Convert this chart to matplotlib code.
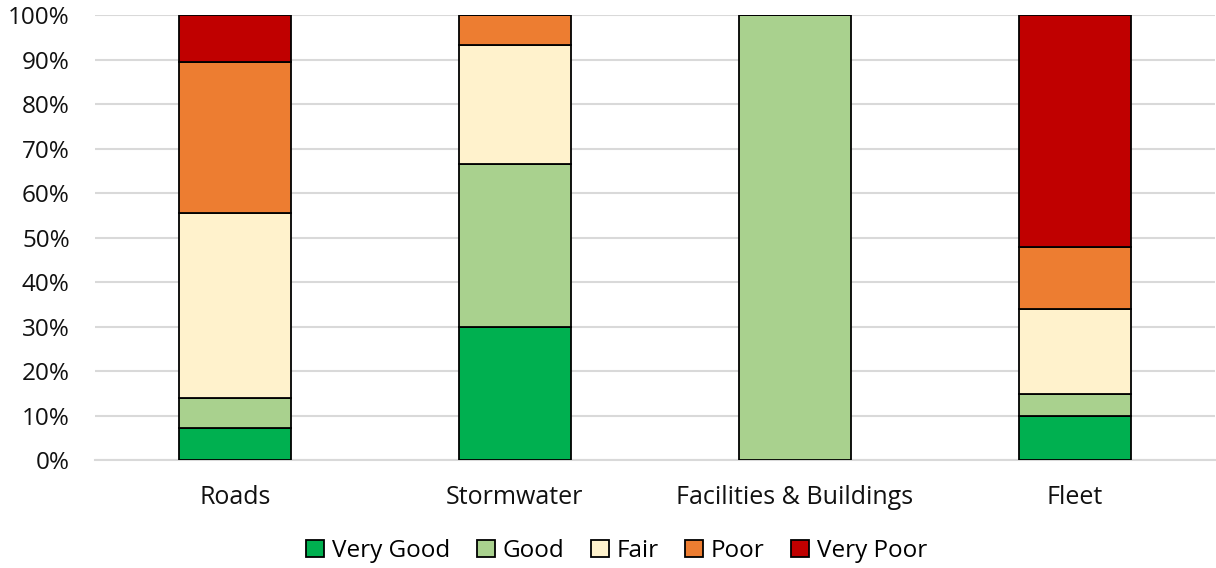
import matplotlib.pyplot as plt
import numpy as np

categories = ['Roads', 'Stormwater', 'Facilities & Buildings', 'Fleet']
very_good = [7.1, 30.0, 0.0, 10.0]
good = [6.9, 36.5, 100.0, 4.8]
fair = [41.6, 26.8, 0.0, 19.2]
poor = [33.9, 6.7, 0.0, 13.8]
very_poor = [10.5, 0.0, 0.0, 52.2]

labels = ['Very Good', 'Good', 'Fair', 'Poor', 'Very Poor']
colors = ['#00b050', '#a9d18e', '#fff2cc', '#ed7d31', '#c00000']

plt.rcParams['font.family'] = ['Open Sans', 'DejaVu Sans']

fig = plt.figure(figsize=(12.16, 5.68), dpi=100)
ax = fig.add_axes([0.078, 0.19, 0.921, 0.7836])

x = np.arange(len(categories))
bottom = np.zeros(len(categories))
for series, label, color in zip([very_good, good, fair, poor, very_poor], labels, colors):
    vals = np.array(series)
    ax.bar(x, vals, 0.4, bottom=bottom, color=color, edgecolor='black',
           linewidth=1.3, label=label, zorder=3)
    bottom += vals

ax.set_xlim(-0.5, len(categories) - 0.5)
ax.set_ylim(0, 100)
ax.set_yticks(np.arange(0, 101, 10))
ax.set_yticklabels([f'{v}%' for v in range(0, 101, 10)])
ax.set_xticks(x)
ax.set_xticklabels(categories)
ax.tick_params(length=0, labelsize=17.5, colors='#111111')
ax.tick_params(axis='x', labelsize=18, pad=18)
ax.tick_params(axis='y', pad=18)
ax.grid(axis='y', color='#d9d9d9', linewidth=1.5, zorder=0)
for s in ['top', 'right', 'left']:
    ax.spines[s].set_visible(False)
ax.spines['bottom'].set_color('#d9d9d9')
ax.spines['bottom'].set_linewidth(1.5)

fig.legend(loc='center', bbox_to_anchor=(0.507, 0.03), ncol=5, frameon=False,
           fontsize=17.5, handlelength=0.75, handleheight=0.75, handletextpad=0.3,
           columnspacing=1.1)

fig.savefig('out.png', dpi=100)
